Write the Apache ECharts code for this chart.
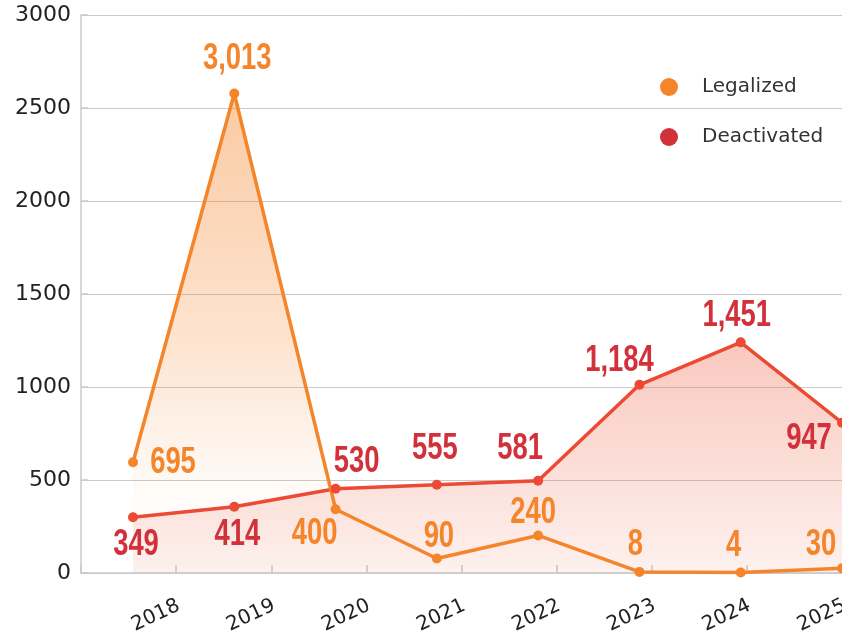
<!DOCTYPE html>
<html>
<head>
<meta charset="utf-8">
<script src="https://cdn.jsdelivr.net/npm/echarts@6/dist/echarts.min.js"></script>
<style>
  html, body { margin: 0; padding: 0; background: #fff; }
  #chart { width: 842px; height: 634px; }
</style>
</head>
<body>
<div id="chart"></div>
<script>
// years shown under the axis
const years = ["2018", "2019", "2020", "2021", "2022", "2023", "2024", "2025"];
const yTicks = [0, 500, 1000, 1500, 2000, 2500, 3000];

// plotted heights
const legalized = [595, 2578, 343, 78, 202, 6, 3, 26];
const deactivated = [300, 356, 453, 474, 496, 1012, 1240, 808];

// numbers printed next to the points
const legalizedText = [695, 3013, 400, 90, 240, 8, 4, 30];
const deactivatedText = [349, 414, 530, 555, 581, 1184, 1451, 947];

// where each printed number sits relative to its point
const legalizedOffsets = [[40, 0], [3, -35], [-21, 25], [2, -22], [-5, -23], [-4, -27], [-7, -27], [-21, -23]];
const deactivatedOffsets = [[3, 28], [3, 28], [21, -27], [-2, -36], [-18, -32], [-20, -24], [-4, -27], [-33, 16]];

const ORANGE = "#f5852b";
const RED_LINE = "#ec4a34";
const RED_TEXT = "#d2303b";
const numFont = "bold 37px 'Liberation Sans', sans-serif";
const axisFont = "'DejaVu Sans', sans-serif";

// condensed value labels, placed with the axis scale through a custom series
function labelSeries(values, texts, offsets, color) {
  return {
    type: "custom",
    xAxisIndex: 1,
    yAxisIndex: 1,
    silent: true,
    clip: false,
    z: 5,
    data: values.map((v, i) => [i, v]),
    renderItem: function (params, api) {
      const i = params.dataIndex;
      const p = api.coord([api.value(0), api.value(1)]);
      return {
        type: "text",
        x: p[0] + offsets[i][0],
        y: p[1] + offsets[i][1],
        scaleX: 0.74,
        style: {
          text: texts[i].toLocaleString("en-US"),
          fill: color,
          font: numFont,
          align: "center",
          verticalAlign: "middle"
        }
      };
    }
  };
}

const chart = echarts.init(document.getElementById("chart"));
chart.setOption({
  animation: false,
  grid: [
    { left: 81, right: 0, top: 15, bottom: 61, outerBoundsMode: "none", containLabel: false },
    { left: 133, right: 0, top: 15, bottom: 61, outerBoundsMode: "none", containLabel: false }
  ],
  legend: {
    orient: "vertical",
    left: 655,
    top: 72,
    icon: "circle",
    itemWidth: 18,
    itemHeight: 18,
    itemGap: 30,
    textStyle: { fontFamily: axisFont, fontSize: 20, color: "#333", padding: [0, 0, 0, 19] },
    data: [
      { name: "Legalized", itemStyle: { color: ORANGE } },
      { name: "Deactivated", itemStyle: { color: RED_TEXT } }
    ]
  },
  xAxis: [
    {
      type: "category",
      gridIndex: 0,
      boundaryGap: false,
      data: [""].concat(years),
      axisLine: { lineStyle: { color: "#c5cbd2", width: 1.5 } },
      axisTick: { inside: true, length: 8, lineStyle: { color: "#c5cbd2", width: 1.5 } },
      axisLabel: { rotate: 25, margin: 33, padding: [0, -3, 0, 0], color: "#222", fontFamily: axisFont, fontSize: 20 }
    },
    {
      type: "category",
      gridIndex: 1,
      boundaryGap: false,
      data: years,
      show: false
    }
  ],
  yAxis: [
    {
      type: "value",
      gridIndex: 0,
      min: yTicks[0],
      max: yTicks[yTicks.length - 1],
      interval: 500,
      axisLine: { show: true, lineStyle: { color: "#c5cbd2", width: 1.5 } },
      axisTick: { show: true, inside: true, length: 7, lineStyle: { color: "#c5cbd2", width: 1.5 } },
      splitLine: { lineStyle: { color: "#cacaca", width: 1 } },
      axisLabel: { margin: 10, color: "#222", fontFamily: axisFont, fontSize: 22, formatter: v => String(v) }
    },
    {
      type: "value",
      gridIndex: 1,
      min: yTicks[0],
      max: yTicks[yTicks.length - 1],
      show: false,
      splitLine: { show: false }
    }
  ],
  series: [
    {
      name: "Deactivated",
      type: "line",
      xAxisIndex: 1,
      yAxisIndex: 1,
      symbol: "circle",
      symbolSize: 10,
      lineStyle: { color: RED_LINE, width: 3.5 },
      itemStyle: { color: RED_LINE },
      areaStyle: {
        color: new echarts.graphic.LinearGradient(0, 0, 0, 1, [
          { offset: 0, color: "rgba(238,100,70,0.5)" },
          { offset: 1, color: "rgba(238,100,70,0.13)" }
        ])
      },
      data: deactivated
    },
    {
      name: "Legalized",
      type: "line",
      xAxisIndex: 1,
      yAxisIndex: 1,
      symbol: "circle",
      symbolSize: 10,
      lineStyle: { color: ORANGE, width: 3.5 },
      itemStyle: { color: ORANGE },
      areaStyle: {
        color: new echarts.graphic.LinearGradient(0, 0, 0, 1, [
          { offset: 0, color: "rgba(245,133,43,0.62)" },
          { offset: 0.5, color: "rgba(245,133,43,0.33)" },
          { offset: 0.85, color: "rgba(245,133,43,0.03)" },
          { offset: 1, color: "rgba(245,133,43,0)" }
        ])
      },
      data: legalized
    },
    labelSeries(deactivated, deactivatedText, deactivatedOffsets, RED_TEXT),
    labelSeries(legalized, legalizedText, legalizedOffsets, ORANGE)
  ]
});
</script>
</body>
</html>
